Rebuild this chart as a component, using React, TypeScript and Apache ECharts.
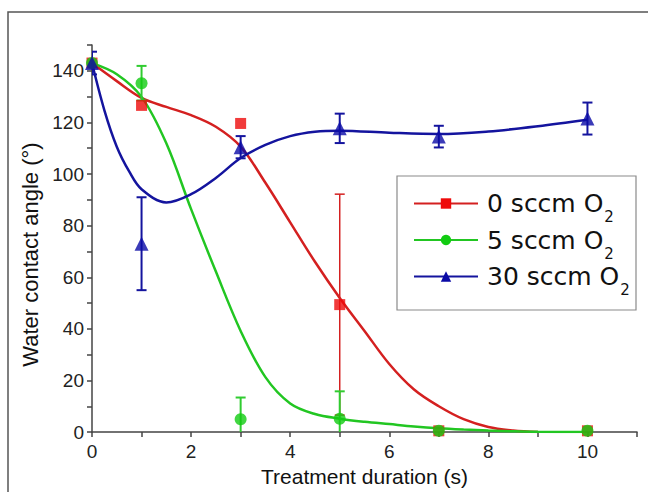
import React, { useEffect, useRef } from "react";
import * as echarts from "echarts";

// ---- data ----
const xPoints = [0, 1, 3, 5, 7, 10];

const redValues = [143, 126.6, 119.6, 49.4, 0.5, 0.5];
const redErrors = [0, 0, 0, 42.8, 0, 0];
const greenValues = [143, 135.2, 5.0, 5.2, 0.5, 0.5];
const greenErrors = [0, 6.7, 8.4, 10.6, 0, 0];
const blueValues = [143, 73.0, 110.4, 117.7, 114.5, 121.5];
const blueErrors = [4.4, 18, 4.3, 5.7, 4.2, 6.2];

// fitted curves
const redFitX = [0, 0.5, 1, 1.5, 2, 2.5, 3, 3.5, 4, 4.5, 5, 5.5, 6, 6.5, 7, 7.5, 8, 8.5, 9];
const redFitY = [143, 136, 129.5, 126, 122.8, 118.3, 110.6, 96.6, 81.3, 66, 52, 39.2, 26.4, 16.5, 10, 5, 2, 0.6, 0];
const greenFitX = [0, 0.5, 1, 1.5, 2, 2.5, 3, 3.5, 4, 4.5, 5, 5.5, 6, 6.5, 7, 7.5, 8, 8.5, 9, 10];
const greenFitY = [143, 138.7, 129.9, 111.9, 86.4, 62.2, 39.2, 21.3, 11.1, 7, 5.2, 4, 3.1, 2.2, 1.5, 1, 0.6, 0.3, 0.1, 0];
const blueFitX = [0, 0.25, 0.5, 0.75, 1, 1.5, 2, 2.5, 3, 3.5, 4, 4.5, 5, 6, 7, 8, 9, 10];
const blueFitY = [143, 124.7, 110.6, 101, 94.1, 89, 92.2, 98.5, 106.2, 111.3, 114.7, 116.4, 116.8, 116, 115.5, 116.5, 118.5, 121];

const seriesNames = ["0 sccm O2", "5 sccm O2", "30 sccm O2"];
const seriesLabelBase = ["0 sccm O", "5 sccm O", "30 sccm O"];
const subscript = "2";

const xTitle = "Treatment duration (s)";
const yTitle = "Water contact angle (°)";

const curveColors = ["#d42020", "#22c622", "#14149e"];
const markerColors = ["#ee0a0a", "#12cc12", "#0a0aa6"];
const symbols = ["rect", "circle", "triangle"];
const symbolSizes = [11, 12, 14];

const FONT = "Liberation Sans";

function pairs(xs: number[], ys: number[]) {
  return xs.map((x, i) => [x, ys[i]]);
}

function errorSeries(values: number[], errors: number[], color: string, width: number) {
  return {
    type: "custom",
    clip: true,
    silent: true,
    z: 3,
    data: xPoints.map((x, i) => [x, values[i], errors[i]]),
    renderItem: (params: any, api: any) => {
      const x = api.value(0);
      const v = api.value(1);
      const e = api.value(2);
      if (!e) return null;
      const top = api.coord([x, v + e]);
      const bot = api.coord([x, v - e]);
      const cap = 5;
      const style = { stroke: color, lineWidth: width };
      return {
        type: "group",
        children: [
          { type: "line", shape: { x1: top[0], y1: top[1], x2: bot[0], y2: bot[1] }, style },
          { type: "line", shape: { x1: top[0] - cap, y1: top[1], x2: top[0] + cap, y2: top[1] }, style },
          { type: "line", shape: { x1: bot[0] - cap, y1: bot[1], x2: bot[0] + cap, y2: bot[1] }, style },
        ],
      };
    },
  };
}

export default function App() {
  const ref = useRef<HTMLDivElement>(null);

  useEffect(() => {
    if (!ref.current) return;
    const chart = echarts.init(ref.current, undefined, { renderer: "svg" });

    const fits = [pairs(redFitX, redFitY), pairs(greenFitX, greenFitY), pairs(blueFitX, blueFitY)];
    const values = [redValues, greenValues, blueValues];

    const curveSeries = seriesNames.map((name, i) => ({
      type: "line",
      name,
      data: fits[i],
      smooth: 0.35,
      showSymbol: false,
      symbol: symbols[i],
      symbolSize: symbolSizes[i],
      color: markerColors[i],
      lineStyle: { color: curveColors[i], width: 2.5 },
      z: 2,
    }));

    const errSeries = [
      errorSeries(redValues, redErrors, curveColors[0], 1.5),
      errorSeries(greenValues, greenErrors, "#30cc30", 2),
      errorSeries(blueValues, blueErrors, curveColors[2], 2),
    ];

    const markerSeries = seriesNames.map((name, i) => ({
      type: "scatter",
      name: name + " points",
      data: xPoints.map((x, k) => [x, values[i][k]]),
      symbol: symbols[i],
      symbolSize: symbolSizes[i],
      itemStyle: { color: markerColors[i] },
      z: 4,
    }));

    const axisCommon = {
      axisLine: { show: true, lineStyle: { color: "#444", width: 1.5 } },
      axisTick: { show: true, inside: false, length: 5, lineStyle: { color: "#444", width: 1.5 } },
      splitLine: { show: false },
      axisLabel: { color: "#222", fontSize: 19, fontFamily: FONT },
      nameTextStyle: { color: "#111", fontSize: 21, fontFamily: FONT },
    };

    chart.setOption({
      animation: false,
      backgroundColor: "#ffffff",
      grid: { left: 92, right: 11, top: 45, bottom: 56, containLabel: false },
      xAxis: {
        type: "value",
        min: 0,
        max: 11,
        interval: 1,
        ...axisCommon,
        axisLabel: {
          ...axisCommon.axisLabel,
          margin: 10,
          formatter: (v: number) => (v % 2 === 0 && v <= 10 ? String(v) : ""),
        },
        name: xTitle,
        nameLocation: "middle",
        nameGap: 31,
      },
      yAxis: {
        type: "value",
        min: 0,
        max: 150,
        interval: 10,
        ...axisCommon,
        axisLabel: {
          ...axisCommon.axisLabel,
          margin: 8,
          formatter: (v: number) => (v % 20 === 0 ? String(v) : ""),
        },
        name: yTitle,
        nameLocation: "middle",
        nameGap: 48,
        nameTextStyle: { ...axisCommon.nameTextStyle, fontSize: 22, padding: [0, 32, 0, 0] },
      },
      legend: {
        data: seriesNames,
        orient: "vertical",
        left: 413,
        top: 191,
        padding: 0,
        itemGap: 3,
        itemWidth: 64,
        itemHeight: 13,
        formatter: (name: string) => {
          const i = seriesNames.indexOf(name);
          return `{a|${seriesLabelBase[i]}}{b|${subscript}}`;
        },
        textStyle: {
          rich: {
            a: { fontSize: 25, fontFamily: "DejaVu Sans", color: "#111", lineHeight: 42, padding: [0, 0, 0, 4] },
            b: { fontSize: 15, fontFamily: "DejaVu Sans", color: "#111", lineHeight: 42, verticalAlign: "bottom", padding: [0, 0, 0, 1] },
          },
        },
      },
      graphic: [
        {
          type: "rect",
          shape: { x: 8, y: 12, width: 700, height: 600 },
          style: { fill: "none", stroke: "#555", lineWidth: 1.5 },
          silent: true,
        },
        {
          type: "rect",
          shape: { x: 397, y: 176, width: 239, height: 134 },
          style: { fill: "none", stroke: "#8a8a8a", lineWidth: 1.2 },
          silent: true,
        },
      ],
      series: [...curveSeries, ...errSeries, ...markerSeries],
    });

    return () => chart.dispose();
  }, []);

  return (
    <div
      ref={ref}
      style={{ position: "absolute", left: 0, top: 0, width: 648, height: 492, background: "#fff" }}
    />
  );
}
